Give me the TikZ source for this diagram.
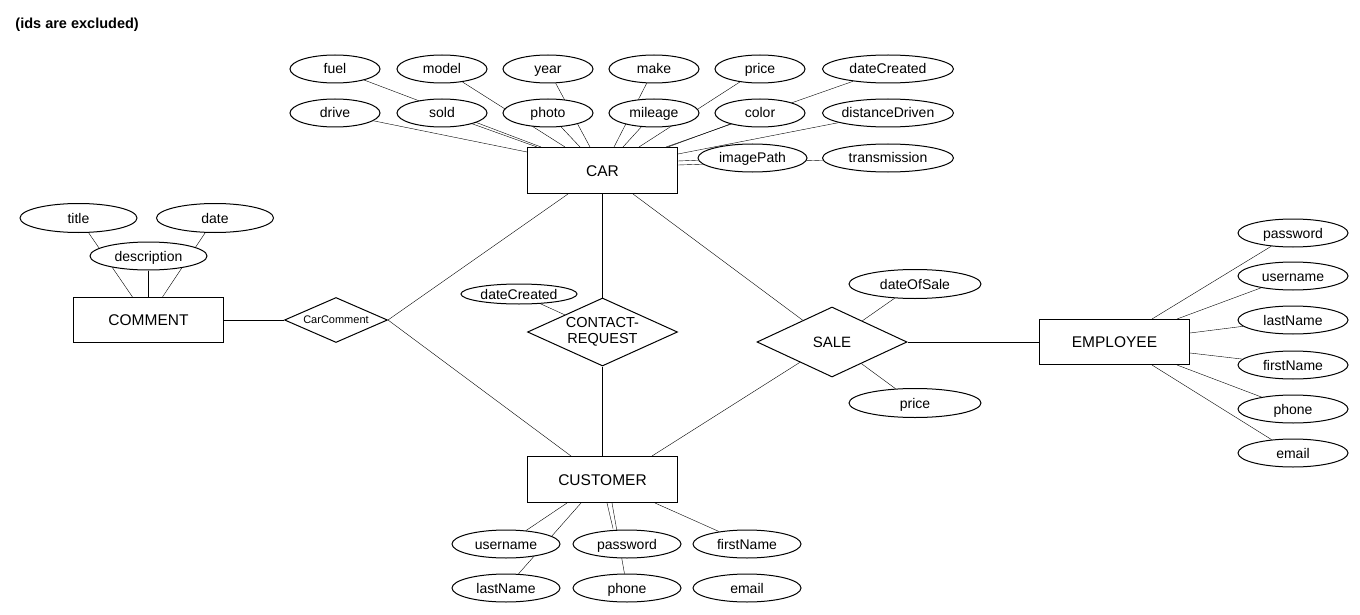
\documentclass[tikz,border=0pt]{standalone}
\usepackage{fontspec}
\setmainfont{Liberation Sans}
\usetikzlibrary{shapes.geometric,backgrounds,calc}
\begin{document}
\begin{tikzpicture}[x=1pt,y=-1pt,line width=1pt,
  entity/.style={draw,fill=white,rectangle,inner sep=0pt,minimum width=150pt,minimum height=46pt,text height=11pt,text depth=0pt,font=\fontsize{15.5}{18}\selectfont},
  attr/.style={draw,fill=white,ellipse,inner sep=0pt,minimum width=90pt,minimum height=28pt,text height=11pt,text depth=1pt,font=\fontsize{14}{16}\selectfont},
  rel/.style={draw,fill=white,diamond,inner sep=0pt,aspect=2.2,minimum width=150pt,minimum height=70pt,font=\fontsize{15}{16}\selectfont,align=center},
  conn/.style={draw}]
\useasboundingbox (0,0) rectangle (1360,615);
\node[anchor=west,inner sep=0pt,font=\bfseries\fontsize{14.5}{16}\selectfont] (title) at (15,25) {(ids are excluded)};

% entities
\node[entity] (car) at (602.5,170.5) {CAR};
\node[entity,minimum height=45pt] (comment) at (148.5,320) {COMMENT};
\node[entity] (customer) at (602.5,479.5) {CUSTOMER};
\node[entity,minimum height=45pt] (employee) at (1114.5,342) {EMPLOYEE};

% relationships
\node[rel,minimum width=103pt,minimum height=45pt,font=\fontsize{11}{13}\selectfont] (carcomment) at (336,320) {CarComment};
\node[rel,minimum height=68pt,font=\fontsize{14.5}{16}\selectfont] (contact) at (602.5,332) {CONTACT-\\REQUEST};
\node[rel] (sale) at (832,342) {SALE};

% car attributes
\node[attr] (fuel) at (335,69) {fuel};
\node[attr] (model) at (442,69) {model};
\node[attr] (year) at (548,69) {year};
\node[attr] (make) at (654,69) {make};
\node[attr] (price) at (760,69) {price};
\node[attr,minimum width=131pt] (datecreated) at (888,69) {dateCreated};
\node[attr] (drive) at (335,113) {drive};
\node[attr] (sold) at (442,113) {sold};
\node[attr] (photo) at (548,113) {photo};
\node[attr] (mileage) at (654,113) {mileage};
\node[attr] (color) at (760,113) {color};
\node[attr,minimum width=131pt] (distance) at (888,113) {distanceDriven};
\node[attr,minimum width=109pt] (imagepath) at (752.5,158) {imagePath};
\node[attr,minimum width=131pt] (transmission) at (888,158) {transmission};

% comment attributes
\node[attr,minimum width=117pt,minimum height=29pt] (ctitle) at (78.5,218) {title};
\node[attr,minimum width=117pt,minimum height=29pt] (cdate) at (215,218) {date};
\node[attr,minimum width=117pt] (cdesc) at (148.5,256) {description};

% contact request attribute
\node[attr,minimum width=116pt,minimum height=20pt] (crdate) at (519,294) {dateCreated};

% sale attributes
\node[attr,minimum width=132pt,minimum height=29pt] (dateofsale) at (915,284) {dateOfSale};
\node[attr,minimum width=132pt,minimum height=29pt] (sprice) at (915,403) {price};

% customer attributes
\node[attr,minimum width=108pt] (cuusername) at (506,544) {username};
\node[attr,minimum width=108pt] (cupassword) at (627,544) {password};
\node[attr,minimum width=108pt] (cufirst) at (747,544) {firstName};
\node[attr,minimum width=108pt] (culast) at (506,588) {lastName};
\node[attr,minimum width=108pt] (cuphone) at (627,588) {phone};
\node[attr,minimum width=108pt] (cuemail) at (747,588) {email};

% employee attributes
\node[attr,minimum width=110pt] (epassword) at (1293,233) {password};
\node[attr,minimum width=110pt] (eusername) at (1293,276) {username};
\node[attr,minimum width=110pt] (elast) at (1293,320) {lastName};
\node[attr,minimum width=110pt] (efirst) at (1293,365) {firstName};
\node[attr,minimum width=110pt] (ephone) at (1293,409) {phone};
\node[attr,minimum width=110pt] (eemail) at (1293,453) {email};

\begin{scope}[on background layer]
\fill[white] (0,0) rectangle (1360,615);
% car attribute connectors
\draw[conn] ($(car.north west)+(0,5)$) -- (drive);
\draw[conn] ($(car.north west)+(14,0)$) -- (fuel);
\draw[conn] ($(car.north west)+(10,0)$) -- (sold);
\draw[conn] ($(car.north west)+(38,0)$) -- (model);
\draw[conn] ($(car.north west)+(53,0)$) -- (photo);
\draw[conn] ($(car.north west)+(63,0)$) -- (year);
\draw[conn] ($(car.north west)+(87,0)$) -- (make);
\draw[conn] ($(car.north west)+(96,0)$) -- (mileage);
\draw[conn] ($(car.north west)+(112,0)$) -- (price);
\draw[conn] ($(car.north west)+(141,0)$) -- (color);
\draw[conn] ($(car.north west)+(139,0)$) -- (datecreated);
\draw[conn] ($(car.north east)+(0,7)$) -- (distance);
\draw[conn] ($(car.north east)+(0,14)$) -- (imagepath);
\draw[conn] ($(car.north east)+(0,18)$) -- (transmission);
% comment attribute connectors
\draw[conn] ($(comment.north)+(-16,0)$) -- (ctitle);
\draw[conn] (comment.north) -- (cdesc);
\draw[conn] ($(comment.north)+(14,0)$) -- (cdate);
% customer attribute connectors
\draw[conn] ($(customer.south west)+(40,0)$) -- (cuusername);
\draw[conn] ($(customer.south west)+(54,0)$) -- (culast);
\draw[conn] ($(customer.south west)+(80,0)$) -- ($(cupassword.north)+(-14,-1)$);
\draw[conn] ($(customer.south west)+(85,0)$) -- (cuphone);
\draw[conn] ($(customer.south west)+(128,0)$) -- (cufirst);
% employee attribute connectors
\draw[conn] ($(employee.north west)+(113,0)$) -- (epassword);
\draw[conn] ($(employee.north west)+(138,0)$) -- (eusername);
\draw[conn] ($(employee.north east)+(0,14)$) -- (elast);
\draw[conn] ($(employee.north east)+(0,34)$) -- (efirst);
\draw[conn] ($(employee.south west)+(138,0)$) -- (ephone);
\draw[conn] ($(employee.south west)+(113,0)$) -- (eemail);
% relationship connectors
\draw[conn] (comment.east) -- (carcomment.west);
\draw[conn] (carcomment.east) -- ($(car.south west)+(41,0)$);
\draw[conn] (carcomment.east) -- ($(customer.north west)+(44,0)$);
\draw[conn] (car.south) -- (contact.north);
\draw[conn] (contact.south) -- (customer.north);
\draw[conn] (crdate) -- (contact);
\draw[conn] ($(car.south west)+(106,0)$) -- (sale);
\draw[conn] (sale) -- ($(customer.north west)+(125,0)$);
\draw[conn] (sale.east) -- (employee.west);
\draw[conn] (sale) -- (dateofsale);
\draw[conn] (sale) -- (sprice);
\end{scope}
\end{tikzpicture}
\end{document}
